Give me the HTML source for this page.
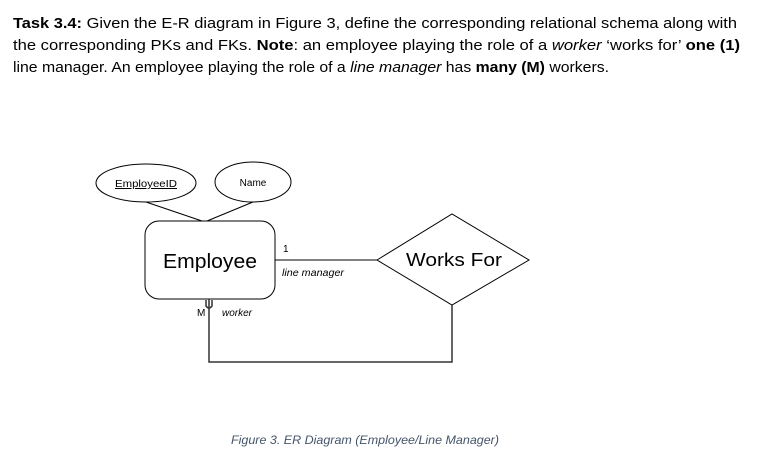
<!DOCTYPE html>
<html><head><meta charset="utf-8"><style>
html,body{margin:0;padding:0;background:#fff;}
svg{display:block;}
</style></head><body>
<svg width="775" height="453" viewBox="0 0 775 453" xmlns="http://www.w3.org/2000/svg" font-family="Liberation Sans, sans-serif">
<g font-size="15" fill="#000">
<text x="13" y="28" textLength="724" lengthAdjust="spacingAndGlyphs"><tspan font-weight="bold">Task 3.4:</tspan> Given the E-R diagram in Figure 3, define the corresponding relational schema along with</text>
<text x="13" y="50" textLength="727" lengthAdjust="spacingAndGlyphs">the corresponding PKs and FKs. <tspan font-weight="bold">Note</tspan>: an employee playing the role of a <tspan font-style="italic">worker</tspan> ‘works for’ <tspan font-weight="bold">one (1)</tspan></text>
<text x="13" y="72" textLength="596" lengthAdjust="spacingAndGlyphs">line manager. An employee playing the role of a <tspan font-style="italic">line manager</tspan> has <tspan font-weight="bold">many (M)</tspan> workers.</text>
</g>
<g fill="none" stroke="#000" stroke-width="1">
<ellipse cx="146" cy="183" rx="50" ry="19"/>
<ellipse cx="253" cy="182" rx="38" ry="20"/>
<line x1="146" y1="202" x2="202" y2="221"/>
<line x1="253" y1="202" x2="207" y2="221"/>
<rect x="145" y="221" width="130" height="78" rx="14"/>
<line x1="275" y1="260" x2="377" y2="260"/>
<polygon points="377,260 452,214 529,260 452,305"/>
<polyline points="209,299 209,362 452,362 452,305" stroke="#333" stroke-width="1.5"/>
<path d="M206,300 V306 Q209,310 212,306 V300" stroke="#333" stroke-width="1.5"/>
</g>
<text x="283" y="252" font-size="10">1</text>
<text x="282" y="276" font-size="10" font-style="italic" textLength="62" lengthAdjust="spacingAndGlyphs">line manager</text>
<text x="197" y="316" font-size="10">M</text>
<text x="222" y="316" font-size="10" font-style="italic">worker</text>
<text x="146" y="187" font-size="10" text-anchor="middle" text-decoration="underline" textLength="62" lengthAdjust="spacingAndGlyphs">EmployeeID</text>
<text x="253" y="186" font-size="10" text-anchor="middle">Name</text>
<text x="210" y="268" font-size="20" text-anchor="middle" textLength="94" lengthAdjust="spacingAndGlyphs">Employee</text>
<text x="454" y="266" font-size="18" text-anchor="middle" textLength="96" lengthAdjust="spacingAndGlyphs">Works For</text>
<text x="231" y="444" font-size="12" font-style="italic" fill="#44546a" textLength="268" lengthAdjust="spacingAndGlyphs">Figure 3. ER Diagram (Employee/Line Manager)</text>
</svg>
</body></html>
